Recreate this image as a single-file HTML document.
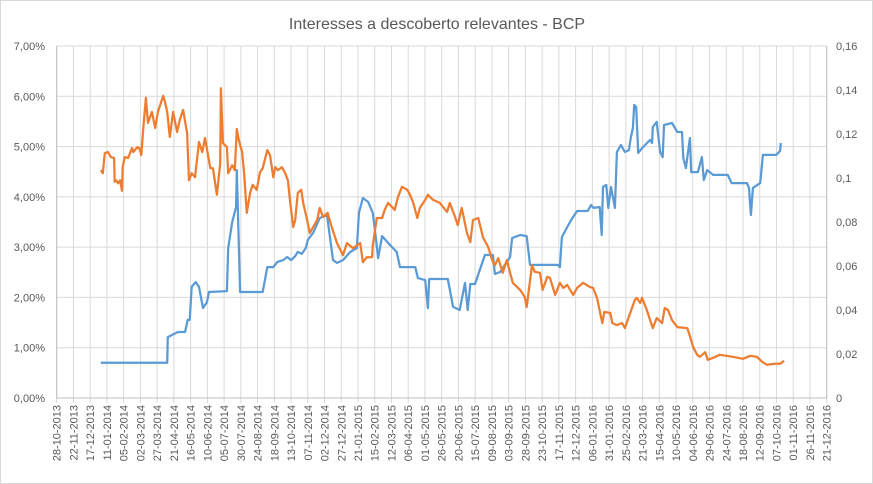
<!DOCTYPE html>
<html><head><meta charset="utf-8"><style>
html,body{margin:0;padding:0;background:#fff;}
svg{display:block;font-family:"Liberation Sans",sans-serif;}
</style></head><body>
<svg id="chart" width="873" height="484" viewBox="0 0 873 484" xmlns="http://www.w3.org/2000/svg">
<rect x="0.5" y="0.5" width="872" height="483" fill="#fff" stroke="#d9d9d9"/>
<text x="437" y="29" text-anchor="middle" font-size="16" fill="#595959">Interesses a descoberto relevantes - BCP</text>
<g id="grid"></g>
<g id="axes"></g>
<g id="series"></g>
</svg>
<script>
const xTickLabels = ["28-10-2013","22-11-2013","17-12-2013","11-01-2014","05-02-2014","02-03-2014","27-03-2014","21-04-2014","16-05-2014","10-06-2014","05-07-2014","30-07-2014","24-08-2014","18-09-2014","13-10-2014","07-11-2014","02-12-2014","27-12-2014","21-01-2015","15-02-2015","12-03-2015","06-04-2015","01-05-2015","26-05-2015","20-06-2015","15-07-2015","09-08-2015","03-09-2015","28-09-2015","23-10-2015","17-11-2015","12-12-2015","06-01-2016","31-01-2016","25-02-2016","21-03-2016","15-04-2016","10-05-2016","04-06-2016","29-06-2016","24-07-2016","18-08-2016","12-09-2016","07-10-2016","01-11-2016","26-11-2016","21-12-2016"];
const leftTicks = [0,1,2,3,4,5,6,7];
const leftTickLabels = ["0,00%","1,00%","2,00%","3,00%","4,00%","5,00%","6,00%","7,00%"];
const rightTicks = [0,0.02,0.04,0.06,0.08,0.1,0.12,0.14,0.16];
const rightTickLabels = ["0","0,02","0,04","0,06","0,08","0,1","0,12","0,14","0,16"];
// orange series: day index, value in %
const orangeDays = [57,60,63,68,72,77,78,80,83,86,89,90,93,98,104,106,112,115,118,121,125,128,134,139,143,151,154,157,161,166,172,176,181,187,190,194,199,205,210,214,222,226,232,237,238,241,247,249,255,259,262,265,270,273,277,282,286,292,297,301,308,312,317,320,324,330,335,339,342,347,350,354,359,362,368,372,377,383,387,392,399,405,413,422,428,437,448,452,458,466,467,473,481,485,490,500,505,511,519,523,528,534,538,546,550,558,568,579,583,591,595,601,609,614,618,626,633,641,647,651,656,663,669,674,678,689,696,699,707,711,719,723,730,734,742,749,754,760,769,775,784,794,799,805,813,816,825,828,835,843,847,855,862,865,870,873,880,889,895,903,907,912,918,926,941,945,950,956,960,968,972,980,990,1010,1025,1036,1046,1054,1061,1073,1081,1087];
const orangeValues = [4.53,4.47,4.87,4.89,4.79,4.77,4.30,4.33,4.27,4.33,4.12,4.59,4.79,4.77,4.97,4.89,4.99,4.97,4.83,5.37,5.97,5.47,5.69,5.37,5.69,6.01,5.87,5.69,5.19,5.69,5.29,5.53,5.73,5.27,4.33,4.47,4.39,5.09,4.89,5.17,4.57,4.57,4.04,4.67,6.16,5.07,4.99,4.47,4.63,4.53,5.35,5.13,4.89,4.47,3.68,4.08,4.24,4.14,4.49,4.57,4.93,4.83,4.39,4.59,4.53,4.59,4.47,4.33,3.94,3.40,3.54,4.08,4.14,3.88,3.54,3.28,3.40,3.54,3.78,3.60,3.68,3.40,3.08,2.84,3.08,2.98,3.08,2.70,2.80,2.80,3.04,3.58,3.58,3.74,3.88,3.74,4.00,4.20,4.14,4.04,3.88,3.58,3.78,3.94,4.04,3.94,3.88,3.70,3.88,3.60,3.44,3.78,3.28,3.10,3.54,3.58,3.20,3.00,2.74,2.64,2.78,2.49,2.74,2.49,2.29,2.15,2.01,1.81,2.64,2.51,2.49,2.15,2.41,2.39,2.05,2.29,2.19,2.25,2.05,2.19,2.29,2.21,2.19,1.99,1.49,1.71,1.69,1.49,1.45,1.49,1.39,1.69,1.95,1.99,1.89,1.99,1.75,1.39,1.59,1.49,1.79,1.75,1.55,1.41,1.39,1.23,1.01,0.86,0.82,0.91,0.76,0.80,0.86,0.82,0.78,0.84,0.82,0.72,0.66,0.68,0.68,0.74];
// blue series: day index, value on right axis
const blueDays = [57,157,158,173,184,188,191,194,200,205,211,217,220,247,249,255,261,262,267,301,308,317,323,332,338,344,350,354,360,366,369,377,387,398,407,413,422,433,443,446,452,460,467,472,475,481,493,503,508,531,535,546,550,552,580,588,598,606,610,614,621,636,648,651,659,674,677,689,699,704,746,749,752,760,766,775,791,796,800,809,812,814,819,822,826,832,835,841,847,853,856,859,861,864,867,873,885,888,889,895,900,904,906,918,926,933,935,939,945,947,957,963,966,971,980,1002,1008,1031,1034,1037,1040,1051,1055,1075,1081,1082];
const blueValues = [0.016,0.016,0.0277,0.030,0.030,0.0355,0.0355,0.0505,0.0527,0.0505,0.0409,0.0436,0.0482,0.0486,0.0682,0.080,0.0868,0.1036,0.0482,0.0482,0.0595,0.0595,0.0618,0.0627,0.0641,0.0627,0.0645,0.0664,0.0655,0.0682,0.0718,0.075,0.0818,0.0832,0.0627,0.0614,0.0627,0.0664,0.0682,0.0841,0.0909,0.0891,0.0841,0.0718,0.0636,0.0736,0.0695,0.0664,0.0595,0.0595,0.0545,0.0536,0.0409,0.0541,0.0541,0.0414,0.040,0.0523,0.040,0.0518,0.0518,0.065,0.065,0.0564,0.0573,0.0641,0.0727,0.0741,0.0736,0.0605,0.0605,0.0595,0.0732,0.0777,0.0809,0.085,0.085,0.0877,0.0864,0.0868,0.0741,0.0959,0.0968,0.0864,0.0959,0.0864,0.1118,0.115,0.1118,0.1127,0.1186,0.1227,0.1332,0.1323,0.1114,0.1136,0.1173,0.1159,0.1232,0.1255,0.1118,0.1095,0.1241,0.125,0.1209,0.1209,0.1091,0.1045,0.1182,0.1027,0.1027,0.1095,0.0991,0.1036,0.1014,0.1014,0.0977,0.0977,0.0955,0.0832,0.0955,0.0977,0.1105,0.1105,0.1123,0.1159];

const NS = "http://www.w3.org/2000/svg";
const L = 56.7, R = 826.7, T = 46, B = 398;
function xScale(d){ return 63 + d * 0.6634; }
function yLeft(v){ return B - (v / 7) * (B - T); }
function yRight(v){ return B - (v / 0.16) * (B - T); }
function mk(tag, attrs, parent){ const e = document.createElementNS(NS, tag); for (const k in attrs) e.setAttribute(k, attrs[k]); parent.appendChild(e); return e; }
const grid = document.getElementById('grid'), axes = document.getElementById('axes'), series = document.getElementById('series');

leftTicks.forEach((v, i) => {
  const y = yLeft(v);
  const ln = mk('line', {x1: L, x2: R, y1: y, y2: y, stroke: '#d9d9d9', 'stroke-width': 1}, grid);
  
  
  const t = mk('text', {x: 45, y: y + 4, 'text-anchor': 'end', 'font-size': 11, fill: '#595959'}, axes);
  t.textContent = leftTickLabels[i];
  
  
});
rightTicks.forEach((v, i) => {
  const y = yRight(v);
  const t = mk('text', {x: 836, y: y + 4, 'text-anchor': 'start', 'font-size': 11, fill: '#595959'}, axes);
  t.textContent = rightTickLabels[i];
  
  
});
const n = xTickLabels.length - 1;
xTickLabels.forEach((lab, i) => {
  const x = L + i * (R - L) / n;
  const ln = mk('line', {x1: x, x2: x, y1: T, y2: B + 5, stroke: '#d9d9d9', 'stroke-width': 1}, grid);
  
  
  const t = mk('text', {x: 0, y: 0, 'text-anchor': 'end', 'font-size': 11, fill: '#595959', transform: 'translate(' + (x + 4) + ',' + (B + 7) + ') rotate(-90)'}, axes);
  t.textContent = lab;
  
  
});
const axL = mk('line', {x1: L, x2: L, y1: T, y2: B, stroke: '#bfbfbf', 'stroke-width': 1}, axes);


const axR = mk('line', {x1: R, x2: R, y1: T, y2: B, stroke: '#bfbfbf', 'stroke-width': 1}, axes);


const axB = mk('line', {x1: L, x2: R, y1: B, y2: B, stroke: '#bfbfbf', 'stroke-width': 1}, axes);



const bluePts = blueDays.map((d, i) => xScale(d).toFixed(1) + ',' + yRight(blueValues[i]).toFixed(1)).join(' ');
const blue = mk('polyline', {points: bluePts, fill: 'none', stroke: '#5B9BD5', 'stroke-width': 2.25, 'stroke-linejoin': 'round'}, series);


const orangePts = orangeDays.map((d, i) => xScale(d).toFixed(1) + ',' + yLeft(orangeValues[i]).toFixed(1)).join(' ');
const orange = mk('polyline', {points: orangePts, fill: 'none', stroke: '#ED7D31', 'stroke-width': 2.25, 'stroke-linejoin': 'round'}, series);


</script>
</body></html>
